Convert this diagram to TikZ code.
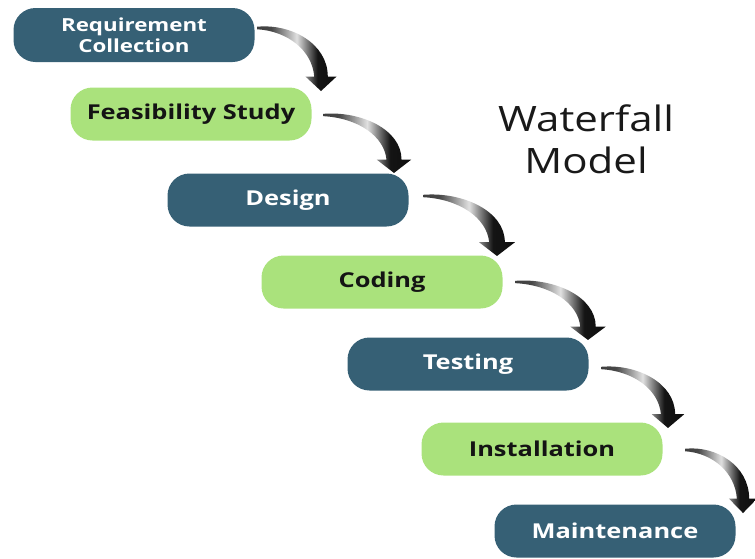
\documentclass[tikz,border=0pt]{standalone}
\usepackage{fontspec}
\newfontfamily\boxfont[FakeStretch=1.24]{Open Sans Bold}
\newfontfamily\titlefont[FakeStretch=1.2]{Open Sans}
\definecolor{wfdark}{RGB}{54,96,117}
\definecolor{wfgreen}{RGB}{170,226,124}
\pgfdeclarehorizontalshading{tube}{100bp}{color(0bp)=(black!85); color(34bp)=(black!72); color(50bp)=(black!12); color(63bp)=(black!92); color(100bp)=(black)}
\newcommand\wfarrow[3]{%
  \begin{scope}[shift={(#1)}, xscale=#2/66, yscale=#3/60]
    \shade[shading=tube] (0,1.2) .. controls (35,4.5) and (73,-15) .. (73,-47)
      -- (82,-47) -- (66,-61) -- (50,-47) -- (59,-47)
      .. controls (57,-22) and (32,-3) .. (0,-1.2) -- cycle;
  \end{scope}}
\tikzset{
  box/.style={rounded corners=22pt, minimum width=241pt, minimum height=53pt, inner sep=0pt, align=center},
  darkbox/.style={box, fill=wfdark, text=white, font=\boxfont\fontsize{20.5}{21}\selectfont},
  greenbox/.style={box, fill=wfgreen, text=black!92, font=\boxfont\fontsize{20.5}{21}\selectfont},
  titletext/.style={font=\titlefont\fontsize{35}{42}\selectfont, align=center, text=black!90}
}
\begin{document}
\begin{tikzpicture}[x=1pt,y=1pt]
\useasboundingbox (0,0) rectangle (755,-558);
\node[darkbox, minimum height=54pt, font=\boxfont\fontsize{18}{21}\selectfont] (req) at (134,-35) {Requirement\\Collection};
\node[greenbox] (fea) at (191,-114) {Feasibility Study};
\node[darkbox] (des) at (288,-200) {Design};
\node[greenbox] (cod) at (382,-282) {Coding};
\node[darkbox] (tes) at (468,-364) {Testing};
\node[greenbox] (ins) at (542,-449) {Installation};
\node[darkbox] (mai) at (615,-531) {Maintenance};
\node[titletext] (title) at (586,-139) {Waterfall\\Model};
\coordinate (s1) at (257,-28);
\coordinate (s2) at (323,-115);
\coordinate (s3) at (423,-196);
\coordinate (s4) at (515,-282);
\coordinate (s5) at (601,-368);
\coordinate (s6) at (685,-450);
\wfarrow{s1}{64}{62}
\wfarrow{s2}{71}{57}
\wfarrow{s3}{74}{59}
\wfarrow{s4}{73}{57}
\wfarrow{s5}{67}{59}
\wfarrow{s6}{58}{62}
\end{tikzpicture}
\end{document}
